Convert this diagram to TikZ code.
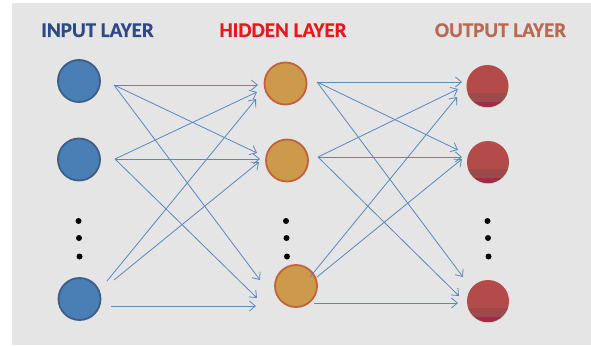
\documentclass[tikz,border=0pt]{standalone}
\usepackage{fontspec}
\setmainfont{Carlito}
\newfontfamily\titlefont{Carlito}[BoldFeatures={FakeBold=0.6}]
\usetikzlibrary{arrows.meta}

\definecolor{bgray}{HTML}{E5E5E5}
\definecolor{inFill}{HTML}{4A7FB6}
\definecolor{inEdge}{HTML}{3D5E86}
\definecolor{hidFill}{HTML}{CD9A4B}
\definecolor{hidEdge}{HTML}{C2623B}
\definecolor{outFill}{HTML}{B24B49}
\definecolor{outBand}{HTML}{9D4A4C}
\definecolor{outTip}{HTML}{A3284B}
\definecolor{outShade}{HTML}{C9D1C2}
\definecolor{wire}{HTML}{5B88BF}
\definecolor{inText}{HTML}{2E4A86}
\definecolor{hidText}{HTML}{E8191C}
\definecolor{outText}{HTML}{B9694F}

\begin{document}
\begin{tikzpicture}[x=1pt,y=-1pt,
  neuron/.style={circle,minimum size=42pt,inner sep=0pt,line width=1.8pt},
  inneuron/.style={neuron,fill=inFill,draw=inEdge},
  hidneuron/.style={neuron,fill=hidFill,draw=hidEdge},
  outneuron/.style={neuron},
  title/.style={font=\titlefont\bfseries\fontsize{21}{24}\selectfont,anchor=base},
  dot/.style={circle,fill=black,minimum size=6pt,inner sep=0pt},
  wirearrow/.style={draw=wire,line width=0.8pt,
    -{Straight Barb[length=6pt,width=10pt,line width=0.8pt]}}]

\useasboundingbox (0,0) rectangle (591,345);
\fill[bgray] (12,3) rectangle (591,345);

% layer titles
\node[title,text=inText]  (tin)  at (97.5,37)  {INPUT LAYER};
\node[title,text=hidText] (thid) at (283,37)   {HIDDEN LAYER};
\node[title,text=outText] (tout) at (500.5,37) {OUTPUT LAYER};

% input layer
\node[inneuron] (i1) at (79,81) {};
\node[inneuron] (i2) at (79,159.5) {};
\node[inneuron] (i3) at (79.5,299) {};

% hidden layer
\node[hidneuron] (h1) at (285.5,83.5) {};
\node[hidneuron] (h2) at (287,160.5) {};
\node[hidneuron] (h3) at (296,286) {};

% output layer: red disc with darker lower bands
\foreach \n/\x/\y in {o1/487.5/86, o2/488/162, o3/488/301}{
  \fill[outShade] (\x,\y+1.2) circle (21pt);
  \begin{scope}
    \clip (\x,\y) circle (21pt);
    \fill[outFill] (\x-22,\y-22) rectangle (\x+22,\y+22);
    \fill[outBand] (\x-22,\y+7) rectangle (\x+22,\y+22);
    \fill[outTip]  (\x-22,\y+16) rectangle (\x+22,\y+22);
  \end{scope}
  \node[outneuron] (\n) at (\x,\y) {};
}

% ellipsis dots
\foreach \c/\x in {a/79, b/286.5, c/488}{
  \node[dot] (\c1) at (\x-0.5,221) {};
  \node[dot] (\c2) at (\x,238) {};
  \node[dot] (\c3) at (\x+0.5,256.5) {};
}

% connector ends, input -> hidden
\coordinate (i1s) at (114,85);
\coordinate (i2s) at (115,159);
\coordinate (i3a) at (107,281);
\coordinate (i3b) at (114,280);
\coordinate (i3c) at (111,306);
\coordinate (h1a) at (258,85);
\coordinate (h1b) at (257,92);
\coordinate (h1c) at (256,99);
\coordinate (h2a) at (257,153);
\coordinate (h2b) at (260,159);
\coordinate (h2c) at (259,162);
\coordinate (h3a) at (260,280);
\coordinate (h3b) at (257,298);
\coordinate (h3c) at (256,306);

\draw[wirearrow] (i1s) -- (h1a);
\draw[wirearrow] (i1s) -- (h2a);
\draw[wirearrow] (i1s) -- (h3a);
\draw[wirearrow] (i2s) -- (h1b);
\draw[wirearrow] (i2s) -- (h2b);
\draw[wirearrow] (i2s) -- (h3b);
\draw[wirearrow] (i3a) -- (h1c);
\draw[wirearrow] (i3b) -- (h2c);
\draw[wirearrow] (i3c) -- (h3c);

% connector ends, hidden -> output
\coordinate (h1s) at (317,82);
\coordinate (h2s) at (318,157);
\coordinate (h3s) at (310,277);
\coordinate (h3t) at (317,277);
\coordinate (h3u) at (314,303);
\coordinate (o1a) at (462,82);
\coordinate (o1b) at (458,89);
\coordinate (o1c) at (457,97);
\coordinate (o2a) at (458,150);
\coordinate (o2b) at (462,157);
\coordinate (o2c) at (462,159);
\coordinate (o3a) at (463,277);
\coordinate (o3b) at (459,296);
\coordinate (o3c) at (458,303);

\draw[wirearrow] (h1s) -- (o1a);
\draw[wirearrow] (h1s) -- (o2a);
\draw[wirearrow] (h1s) -- (o3a);
\draw[wirearrow] (h2s) -- (o1b);
\draw[wirearrow] (h2s) -- (o2b);
\draw[wirearrow] (h2s) -- (o3b);
\draw[wirearrow] (h3s) -- (o1c);
\draw[wirearrow] (h3t) -- (o2c);
\draw[wirearrow] (h3u) -- (o3c);
\end{tikzpicture}
\end{document}
